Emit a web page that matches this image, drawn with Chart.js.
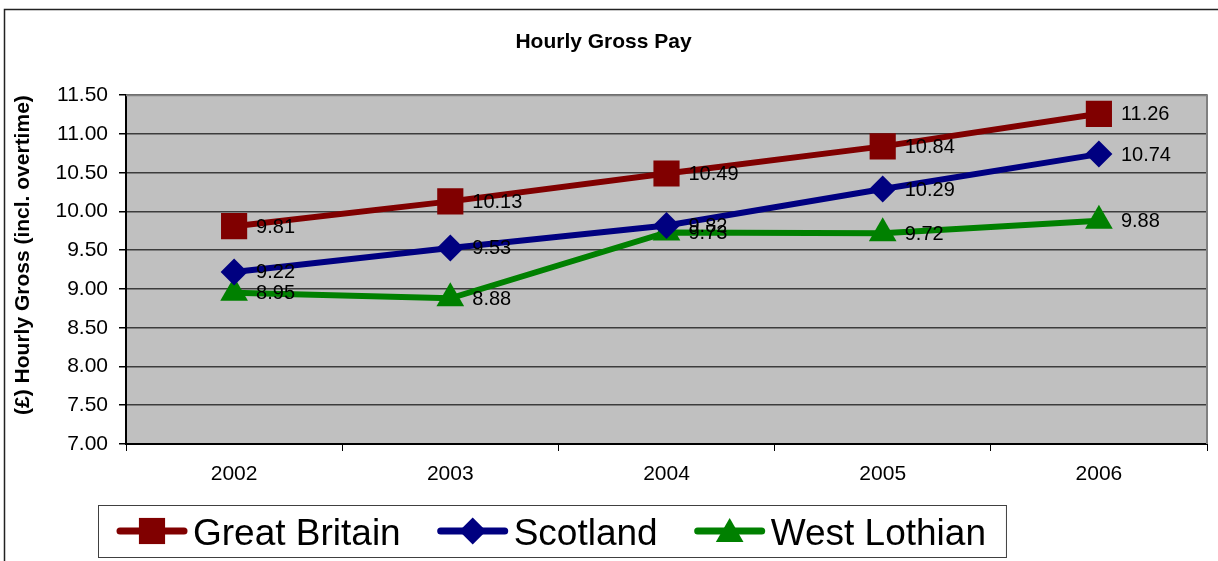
<!DOCTYPE html>
<html>
<head>
<meta charset="utf-8">
<script src="https://cdn.jsdelivr.net/npm/chart.js@4/dist/chart.umd.min.js"></script>
<style>
  html, body { margin: 0; padding: 0; background: #fff; }
  #wrap { width: 1218px; height: 561px; }
</style>
</head>
<body>
<div id="wrap"><canvas id="c" width="1218" height="561"></canvas></div>
<script>
const categories = ['2002', '2003', '2004', '2005', '2006'];
const greatBritain = [9.81, 10.13, 10.49, 10.84, 11.26];
const scotland = [9.22, 9.53, 9.82, 10.29, 10.74];
const westLothian = [8.95, 8.88, 9.73, 9.72, 9.88];
const seriesNames = ['Great Britain', 'Scotland', 'West Lothian'];
const chartTitle = 'Hourly Gross Pay';
const yTitle = '(£) Hourly Gross (incl. overtime)';
const yMin = 7.0, yMax = 11.5, yStep = 0.5;

const FONT = '"Liberation Sans", Arial, Helvetica, sans-serif';
Chart.defaults.font.family = FONT;
Chart.defaults.color = '#000';

function drawMarker(ctx, style, r, x, y, color) {
  ctx.save();
  ctx.fillStyle = color;
  ctx.beginPath();
  if (style === 'rect') {
    const s = Math.SQRT1_2 * r;
    ctx.rect(x - s, y - s, 2 * s, 2 * s);
  } else if (style === 'rectRot') {
    ctx.moveTo(x, y - r); ctx.lineTo(x + r, y); ctx.lineTo(x, y + r); ctx.lineTo(x - r, y);
    ctx.closePath();
  } else if (style === 'triangle') {
    let rad = 0;
    ctx.moveTo(x + Math.sin(rad) * r, y - Math.cos(rad) * r);
    rad += 2 * Math.PI / 3;
    ctx.lineTo(x + Math.sin(rad) * r, y - Math.cos(rad) * r);
    rad += 2 * Math.PI / 3;
    ctx.lineTo(x + Math.sin(rad) * r, y - Math.cos(rad) * r);
    ctx.closePath();
  }
  ctx.fill();
  ctx.restore();
}

const frameAndBg = {
  id: 'frameAndBg',
  beforeDraw(chart) {
    const {ctx, chartArea: a} = chart;
    ctx.save();
    ctx.fillStyle = '#fff';
    ctx.fillRect(0, 0, chart.width, chart.height);
    ctx.strokeStyle = '#222';
    ctx.lineWidth = 1.5;
    ctx.strokeRect(4.5, 9.5, 1400, 800);
    ctx.fillStyle = '#C0C0C0';
    ctx.fillRect(a.left, a.top, a.right - a.left, a.bottom - a.top);
    ctx.restore();
  },
  beforeDatasetsDraw(chart) {
    const {ctx, chartArea: a} = chart;
    ctx.save();
    ctx.strokeStyle = '#808080';
    ctx.lineWidth = 2;
    ctx.beginPath();
    ctx.moveTo(a.left, a.top);
    ctx.lineTo(a.right, a.top);
    ctx.lineTo(a.right, a.bottom);
    ctx.stroke();
    ctx.restore();
  }
};

const valueLabels = {
  id: 'valueLabels',
  afterDatasetsDraw(chart) {
    const {ctx} = chart;
    ctx.save();
    ctx.font = '20px ' + FONT;
    ctx.fillStyle = '#000';
    ctx.textAlign = 'left';
    ctx.textBaseline = 'middle';
    chart.data.datasets.forEach((ds, i) => {
      const meta = chart.getDatasetMeta(i);
      meta.data.forEach((pt, j) => {
        ctx.fillText(ds.data[j].toFixed(2), pt.x + 22, pt.y + 1);
      });
    });
    ctx.restore();
  }
};

const boxLegend = {
  id: 'boxLegend',
  afterDraw(chart) {
    const {ctx} = chart;
    ctx.save();
    ctx.font = '37px ' + FONT;
    ctx.textBaseline = 'alphabetic';
    ctx.textAlign = 'left';
    const boxLeft = 98, boxTop = 505, boxBottom = 557;
    const cy = 531;
    let x = 117;
    chart.data.datasets.forEach((ds, i) => {
      ctx.strokeStyle = ds.borderColor;
      ctx.lineWidth = 7;
      ctx.lineCap = 'round';
      ctx.beginPath();
      ctx.moveTo(x + 3, cy);
      ctx.lineTo(x + 67, cy);
      ctx.stroke();
      drawMarker(ctx, ds.pointStyle, ds.pointRadius, x + 35, cy + (ds.pointStyle === 'triangle' ? 3 : 0), ds.borderColor);
      ctx.fillStyle = '#000';
      const tx = x + 76;
      ctx.fillText(ds.label, tx, 545);
      x = tx + ctx.measureText(ds.label).width + 37;
    });
    const boxRight = x - 37 + 20;
    ctx.strokeStyle = '#404040';
    ctx.lineWidth = 1;
    ctx.strokeRect(boxLeft + 0.5, boxTop + 0.5, boxRight - boxLeft, boxBottom - boxTop);
    ctx.restore();
  }
};

const mk = (label, data, color, style, r) => ({
  label, data,
  borderColor: color,
  backgroundColor: color,
  pointBackgroundColor: color,
  pointBorderColor: color,
  pointBorderWidth: 0,
  pointStyle: style,
  pointRadius: r,
  pointHoverRadius: r,
  borderWidth: 6,
  tension: 0,
  fill: false
});

new Chart(document.getElementById('c'), {
  type: 'line',
  data: {
    labels: categories,
    datasets: [
      mk(seriesNames[0], greatBritain, '#800000', 'rect', 18.5),
      mk(seriesNames[1], scotland, '#000080', 'rectRot', 13.5),
      mk(seriesNames[2], westLothian, '#008000', 'triangle', 16)
    ]
  },
  options: {
    responsive: false,
    animation: false,
    events: [],
    layout: { autoPadding: false, padding: { left: 0, right: 11, top: 0, bottom: 70 } },
    plugins: {
      legend: { display: false },
      tooltip: { enabled: false },
      title: {
        display: true,
        text: chartTitle,
        color: '#000',
        font: { size: 21, weight: 'bold', family: FONT },
        padding: { top: 30, bottom: 40 }
      }
    },
    scales: {
      x: {
        type: 'category',
        offset: true,
        grid: {
          offset: true,
          drawOnChartArea: false,
          drawTicks: true,
          tickLength: 7,
          tickColor: '#000',
          color: '#000'
        },
        border: { display: true, color: '#000', width: 2 },
        ticks: { font: { size: 21 }, color: '#000', padding: 11, maxRotation: 0 },
        afterFit(s) { s.height = 47; s.paddingLeft = 0; s.paddingRight = 0; }
      },
      y: {
        min: yMin,
        max: yMax,
        grid: {
          color: '#3c3c3c',
          lineWidth: 1.5,
          drawTicks: true,
          tickLength: 7,
          tickColor: '#000'
        },
        border: { display: true, color: '#000', width: 2 },
        ticks: {
          stepSize: yStep,
          font: { size: 21 },
          color: '#000',
          padding: 11,
          callback: (v) => Number(v).toFixed(2)
        },
        title: {
          display: true,
          text: yTitle,
          align: 'end',
          color: '#000',
          font: { size: 21, weight: 'bold', family: FONT },
          padding: { top: 11, bottom: 0 }
        },
        afterFit(s) { s.width = 126; }
      }
    }
  },
  plugins: [frameAndBg, valueLabels, boxLegend]
});
</script>
</body>
</html>
